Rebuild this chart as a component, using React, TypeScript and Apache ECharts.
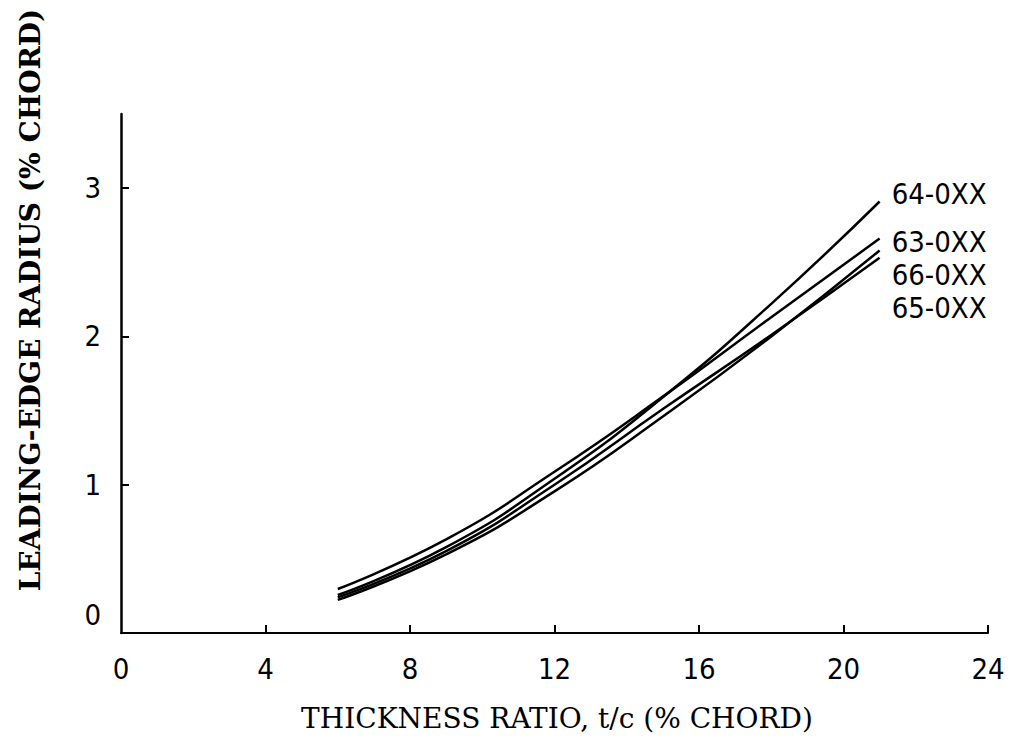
import React, { useEffect, useRef } from "react";
import * as echarts from "echarts";

const thickness = [6, 9, 12, 15, 18, 21];
const r63 = [0.297, 0.631, 1.087, 1.594, 2.13, 2.66];
const r64 = [0.256, 0.579, 1.04, 1.59, 2.22, 2.91];
const r65 = [0.24, 0.552, 1.0, 1.51, 2.01, 2.53];
const r66 = [0.223, 0.53, 0.955, 1.46, 2.0, 2.58];
const seriesNames = ["64-0XX", "63-0XX", "66-0XX", "65-0XX"];
const seriesValues = [r64, r63, r66, r65];
const labelOffsets = [[4, -7], [4, 3], [4, 25], [4, 50]];
const xTicks = [0, 4, 8, 12, 16, 20, 24];
const yTicks = [0, 1, 2, 3];
const xTitle = "THICKNESS RATIO, t/c (% CHORD)";
const yTitle = "LEADING-EDGE RADIUS (% CHORD)";

export default function App() {
  const ref = useRef<HTMLDivElement>(null);
  useEffect(() => {
    if (!ref.current) return;
    const chart = echarts.init(ref.current, null, { renderer: "svg" });
    const tickFont = { fontFamily: "'DejaVu Sans Condensed', 'DejaVu Sans'", fontSize: 29, color: "#000" };
    chart.setOption({
      animation: false,
      backgroundColor: "#fff",
      grid: { left: 121, right: 24, top: 114, bottom: 106, outerBoundsMode: "none", containLabel: false },
      graphic: [
        {
          type: "text",
          x: 557,
          y: 718,
          style: {
            text: xTitle,
            fontFamily: "'DejaVu Serif', 'Liberation Serif'",
            fontSize: 28,
            fill: "#000",
            align: "center",
            verticalAlign: "middle",
          },
        },
        {
          type: "text",
          x: 30,
          y: 300,
          rotation: Math.PI / 2,
          style: {
            text: yTitle,
            fontFamily: "'DejaVu Serif', 'Liberation Serif'",
            fontWeight: "bold",
            fontSize: 28,
            fill: "#000",
            align: "center",
            verticalAlign: "middle",
          },
        },
      ],
      xAxis: {
        type: "value",
        min: 0,
        max: 24,
        interval: 4,
        axisLine: { lineStyle: { color: "#000", width: 2 } },
        axisTick: { inside: true, length: 8, lineStyle: { color: "#000", width: 2 }, customValues: xTicks.slice(1) },
        axisLabel: { ...tickFont, margin: 21, customValues: xTicks },
        splitLine: { show: false },
      },
      yAxis: {
        type: "value",
        min: 0,
        max: 3.5,
        axisLine: { lineStyle: { color: "#000", width: 2.5 } },
        axisTick: { inside: true, length: 8, lineStyle: { color: "#000", width: 2 }, customValues: yTicks.slice(1) },
        axisLabel: {
          ...tickFont,
          margin: 20,
          customValues: yTicks,
          formatter: (v: number) => (v === 0 ? "{z|0}" : String(v)),
          rich: { z: { ...tickFont, padding: [0, 0, 36, 0] } },
        },
        splitLine: { show: false },
      },
      series: seriesNames.map((name, i) => ({
        name,
        type: "line",
        smooth: 0.5,
        showSymbol: false,
        data: thickness.map((t, j) => [t, seriesValues[i][j]]),
        lineStyle: { color: "#000", width: 2.5 },
        endLabel: {
          show: true,
          formatter: name,
          ...tickFont,
          offset: labelOffsets[i],
        },
      })),
    });
    return () => chart.dispose();
  }, []);
  return (
    <div
      ref={ref}
      style={{ position: "absolute", left: 0, top: 0, width: 1012, height: 739 }}
    />
  );
}
